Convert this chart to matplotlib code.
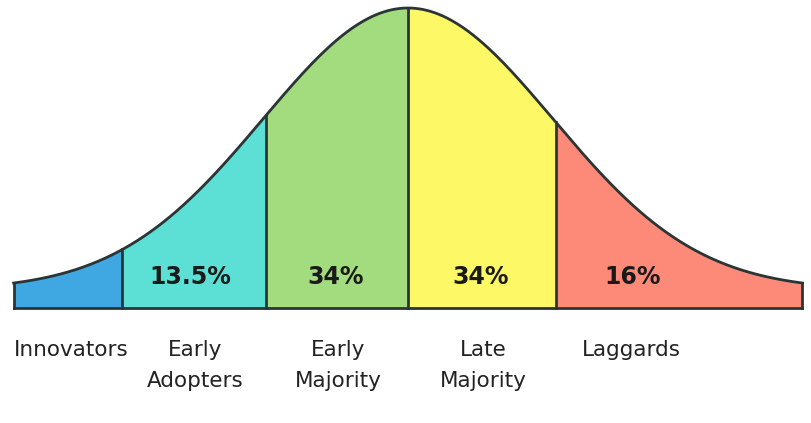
import numpy as np
import matplotlib.pyplot as plt

# segment boundaries in standard deviations
bounds = [-2.72, -1.97, -0.98, 0.0, 1.02, 2.72]
colors = ['#3fa7e2', '#5cdfd5', '#a3dc7f', '#fdf865', '#fd8a78']
percents = ['', '13.5%', '34%', '34%', '16%']
pct_x = [0, -1.5, -0.5, 0.5, 1.55]
names = ['Innovators', 'Early\nAdopters', 'Early\nMajority', 'Late\nMajority', 'Laggards']
name_x = [-2.32, -1.47, -0.48, 0.52, 1.54]

base = 18 / 282.0

def curve(z):
    return base + np.exp(-z ** 2 / 2)

fig = plt.figure(figsize=(8.12, 4.23), dpi=100)
ax = fig.add_axes([0, 0, 1, 1])
ax.set_xlim(-408 / 145, 404 / 145)
ax.set_ylim(-115 / 282, 308 / 282)
ax.axis('off')

edge = '#2b3535'
for i in range(5):
    z = np.linspace(bounds[i], bounds[i + 1], 200)
    ax.fill_between(z, 0, curve(z), color=colors[i], lw=0)
    if i > 0:
        ax.plot([bounds[i], bounds[i]], [0, curve(bounds[i])], color=edge, lw=2)
    if percents[i]:
        ax.text(pct_x[i], 0.11, percents[i], ha='center', va='center',
                fontsize=17, fontweight='bold', color='#1a1a1a')

z = np.linspace(bounds[0], bounds[-1], 600)
ax.plot(z, curve(z), color=edge, lw=2)
ax.plot([bounds[0], bounds[-1]], [0, 0], color=edge, lw=2)
ax.plot([bounds[0], bounds[0]], [0, curve(bounds[0])], color=edge, lw=2)
ax.plot([bounds[-1], bounds[-1]], [0, curve(bounds[-1])], color=edge, lw=2)

for x, n in zip(name_x, names):
    ax.text(x, -0.115, n, ha='center', va='top', fontsize=15.5, color='#222222', linespacing=1.65)

fig.savefig('out.png', dpi=100)
